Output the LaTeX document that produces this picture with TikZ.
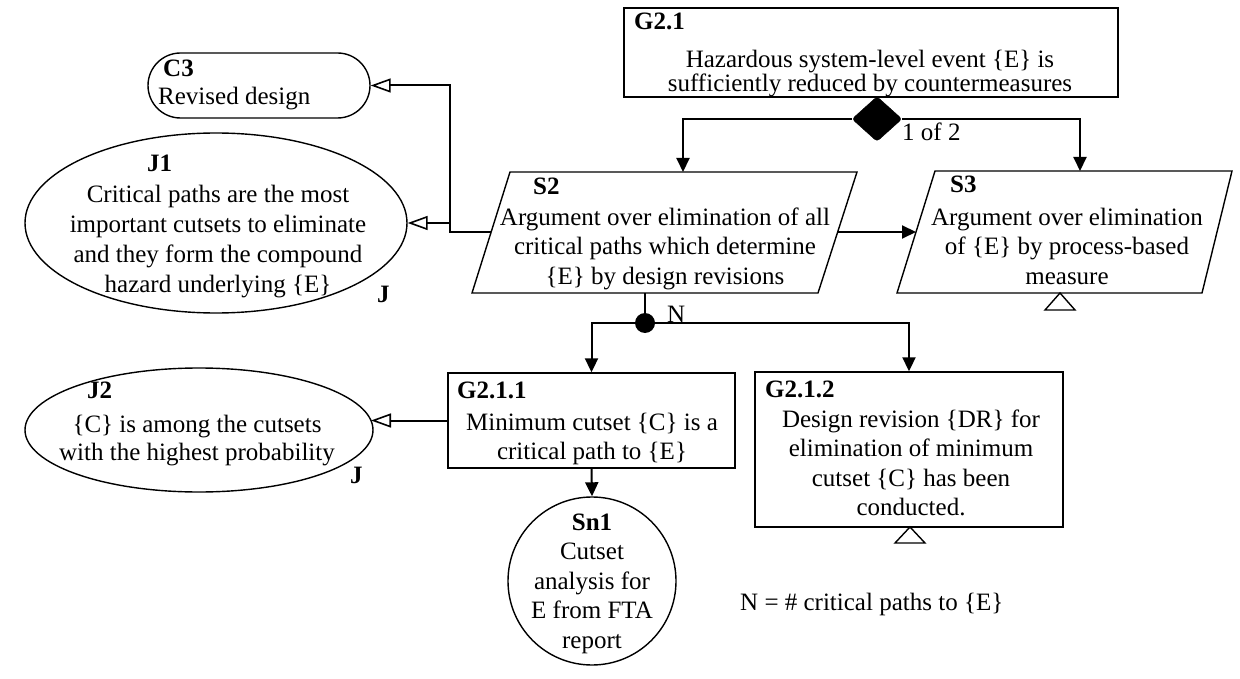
\documentclass[tikz,border=0pt]{standalone}
\usepackage{fontspec}
\setmainfont{Liberation Serif}
\usetikzlibrary{arrows.meta,shapes.geometric,shapes.misc}
\begin{document}
\begin{tikzpicture}[x=1pt,y=-1pt,
  box/.style={draw, line width=1.4pt, inner sep=0pt},
  lbl/.style={font=\fontsize{25}{29.5}\selectfont\bfseries, anchor=base west, inner sep=0pt},
  clbl/.style={font=\fontsize{25}{29.5}\selectfont\bfseries, anchor=base, inner sep=0pt},
  txt/.style={font=\fontsize{25}{29.5}\selectfont, align=center, anchor=base, inner sep=0pt},
  ltxt/.style={font=\fontsize{25}{29.5}\selectfont, anchor=base west, inner sep=0pt},
  conn/.style={line width=2pt},
  arr/.style={conn, -{Triangle[length=14pt,width=13pt]}},
  ctx/.style={conn, -{Triangle[open,length=20pt,width=14pt,line width=1.6pt]}}]
\useasboundingbox (0,0) rectangle (1240,679);

% G2.1  (multi-line text nodes are placed by the baseline of their last line)
\node[box, rectangle, minimum width=494pt, minimum height=89pt] (G21) at (871,52.5) {};
\node[lbl] (G21l) at (634,30) {G2.1};
\node[txt, font=\fontsize{25}{21.5}\selectfont] (G21t) at (870,91.5) {Hazardous system-level event \{E\} is\\sufficiently reduced by countermeasures};
\node[diamond, fill=black, draw=black, rounded corners=3pt, minimum width=50pt, minimum height=45pt, inner sep=0pt] (dia) at (877,119) {};
\node[ltxt] (oneof) at (902,141) {1 of 2};

% C3
\node[box, rounded rectangle, minimum width=222pt, minimum height=65pt] (C3) at (259,85.5) {};
\node[lbl] (C3l) at (163,77) {C3};
\node[ltxt] (C3t) at (158,105) {Revised design};

% J1
\node[box, ellipse, minimum width=382pt, minimum height=180pt] (J1) at (216,223) {};
\node[lbl] (J1l) at (147,172) {J1};
\node[txt, font=\fontsize{25}{30}\selectfont] (J1t) at (218,292) {Critical paths are the most\\important cutsets to eliminate\\and they form the compound\\hazard underlying \{E\}};
\node[lbl] (J1j) at (377,302) {J};

% S2
\coordinate (s2a) at (510,172);
\coordinate (s2b) at (857,172);
\coordinate (s2c) at (818,293);
\coordinate (s2d) at (472,293);
\draw[box] (s2a) -- (s2b) -- (s2c) -- (s2d) -- cycle;
\node[lbl] (S2l) at (533,195) {S2};
\node[txt] (S2t) at (665,284) {Argument over elimination of all\\critical paths which determine\\\{E\} by design revisions};

% S3
\coordinate (s3a) at (935,171);
\coordinate (s3b) at (1232,171);
\coordinate (s3c) at (1202,293);
\coordinate (s3d) at (897,293);
\draw[box] (s3a) -- (s3b) -- (s3c) -- (s3d) -- cycle;
\node[lbl] (S3l) at (950,193) {S3};
\node[txt] (S3t) at (1067,284) {Argument over elimination\\of \{E\} by process-based\\measure};
\draw[box] (1045,310) -- (1060,293) -- (1075,310) -- cycle;

% connection points
\coordinate (s2top) at (683,172);
\coordinate (s3top) at (1080,171);
\coordinate (s2east) at (838,232);
\coordinate (s3west) at (916,232);
\coordinate (s2west) at (491,232);
\coordinate (s2bot) at (645,293);
\coordinate (jn) at (450,232);
\coordinate (jc) at (450,85.5);
\coordinate (jj) at (450,223);

\draw[arr] (dia.west) -| (s2top);
\draw[arr] (dia.east) -| (s3top);
\draw[arr] (s2east) -- (s3west);
\draw[ctx] (s2west) -- (jn) -- (jc) -- (C3.east);
\draw[ctx] (jj) -- (J1.east);

% N junction
\node[circle, fill=black, inner sep=0pt, minimum size=20pt] (dot) at (645,323) {};
\node[ltxt] (Nl) at (667,322) {N};
\draw[conn] (s2bot) -- (dot);

% G2.1.1
\node[box, rectangle, minimum width=287pt, minimum height=95pt] (G211) at (591.5,420.5) {};
\node[lbl] (G211l) at (457,398) {G2.1.1};
\node[txt] (G211t) at (592,459.5) {Minimum cutset \{C\} is a\\critical path to \{E\}};

% G2.1.2
\node[box, rectangle, minimum width=308pt, minimum height=155pt] (G212) at (909,449.5) {};
\node[lbl] (G212l) at (765,397) {G2.1.2};
\node[txt] (G212t) at (911,515.5) {Design revision \{DR\} for\\elimination of minimum\\cutset \{C\} has been\\conducted.};
\draw[box] (895,543) -- (910,527) -- (925,543) -- cycle;

\draw[arr] (dot.center) -| (G211.north);
\draw[arr] (dot.center) -| (G212.north);

% Sn1
\node[box, circle, minimum size=168pt] (Sn1) at (592,581) {};
\node[clbl] (Sn1l) at (592,530) {Sn1};
\node[txt] (Sn1t) at (592,648) {Cutset\\analysis for\\E from FTA\\report};
\draw[arr] (G211.south) -- (Sn1.north);

% J2
\node[box, ellipse, minimum width=348pt, minimum height=124pt] (J2) at (199,430) {};
\node[lbl] (J2l) at (87,398) {J2};
\node[txt, font=\fontsize{25}{28}\selectfont] (J2t) at (197,460) {\{C\} is among the cutsets\\with the highest probability};
\node[lbl] (J2j) at (350,483) {J};
\coordinate (j2in) at (371,420.5);
\draw[ctx] (G211.west) -- (j2in);

% note
\node[ltxt] (note) at (740,610) {N = \# critical paths to \{E\}};
\end{tikzpicture}
\end{document}
